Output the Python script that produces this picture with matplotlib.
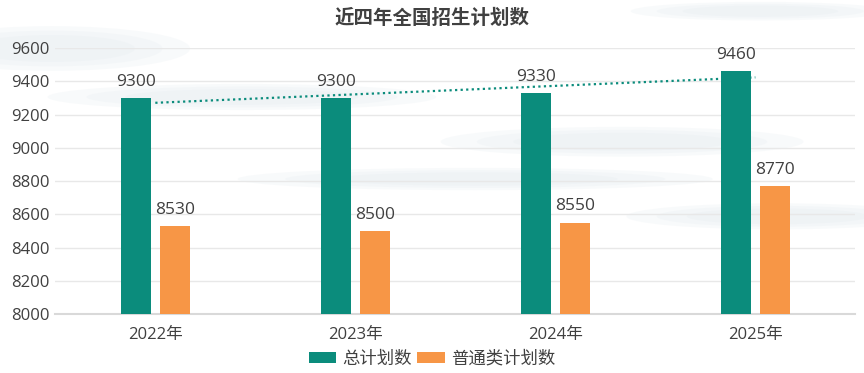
import numpy as np
import matplotlib
matplotlib.use("Agg")
import matplotlib.pyplot as plt
from matplotlib.patches import Ellipse

plt.rcParams['font.family'] = ['Open Sans', 'Noto Sans CJK SC', 'DejaVu Sans']

# Data
years = ['2022年', '2023年', '2024年', '2025年']
total_plan = [9300, 9300, 9330, 9460]
general_plan = [8530, 8500, 8550, 8770]
series_names = ['总计划数', '普通类计划数']
title = '近四年全国招生计划数'

teal = '#0B8C7C'
orange = '#F79646'
text_col = '#404040'

fig = plt.figure(figsize=(8.64, 3.73), dpi=100)
fig.patch.set_facecolor('white')

# faint cloud decoration behind the plot
bg = fig.add_axes([0, 0, 1, 1], zorder=-5)
bg.set_xlim(0, 1)
bg.set_ylim(0, 1)
bg.axis('off')
for (cx, cy, w, h) in [(0.06, 0.87, 0.32, 0.12), (0.28, 0.74, 0.45, 0.07),
                       (0.72, 0.62, 0.42, 0.08), (0.55, 0.52, 0.55, 0.06),
                       (0.90, 0.42, 0.35, 0.07), (0.88, 0.97, 0.30, 0.05)]:
    for s, a in [(1.0, 0.25), (0.8, 0.25), (0.6, 0.3)]:
        bg.add_patch(Ellipse((cx, cy), w * s, h * s, facecolor='#e6edf1',
                             edgecolor='none', alpha=a))

ax = fig.add_axes([0.064, 0.158, 0.926, 0.713])
ax.set_facecolor('none')

x = np.arange(len(years))
width = 0.15
offset = 0.097

b1 = ax.bar(x - offset, total_plan, width, color=teal, label=series_names[0], zorder=3)
b2 = ax.bar(x + offset, general_plan, width, color=orange, label=series_names[1], zorder=3)

for xi, v in zip(x - offset, total_plan):
    ax.text(xi, v + 50, str(v), ha='center', va='bottom', fontsize=12.5, color=text_col, zorder=4)
for xi, v in zip(x + offset, general_plan):
    ax.text(xi, v + 50, str(v), ha='center', va='bottom', fontsize=12.5, color=text_col, zorder=4)

# linear trend line for total plan
k, b = np.polyfit(x, total_plan, 1)
ax.plot(x, k * x + b, linestyle=(0, (1, 1.5)), color=teal, linewidth=1.6, zorder=2)

ax.set_xlim(-0.5, 3.5)
ax.set_ylim(8000, 9600)
ax.set_yticks(range(8000, 9601, 200))
ax.set_xticks(x)
ax.set_xticklabels(years)
ax.tick_params(axis='both', length=0, labelsize=12, colors=text_col)
ax.tick_params(axis='x', pad=9)
ax.tick_params(axis='y', pad=4)
ax.grid(axis='y', color='#e8e8e8', linewidth=1, zorder=0)
for s in ['top', 'right', 'left']:
    ax.spines[s].set_visible(False)
ax.spines['bottom'].set_color('#d9d9d9')
ax.spines['bottom'].set_linewidth(1.5)

fig.text(0.5, 0.952, title, ha='center', va='center', fontsize=14, fontweight='bold',
         color=text_col, family=['Noto Sans CJK SC', 'DejaVu Sans'])

fig.legend(handles=[b1, b2], loc='center', bbox_to_anchor=(0.5, 0.037), ncol=2,
           frameon=False, fontsize=12.5, handlelength=1.6, handleheight=0.6,
           handletextpad=0.35, columnspacing=0.3, labelcolor=text_col)

fig.savefig('out.png', dpi=100)
